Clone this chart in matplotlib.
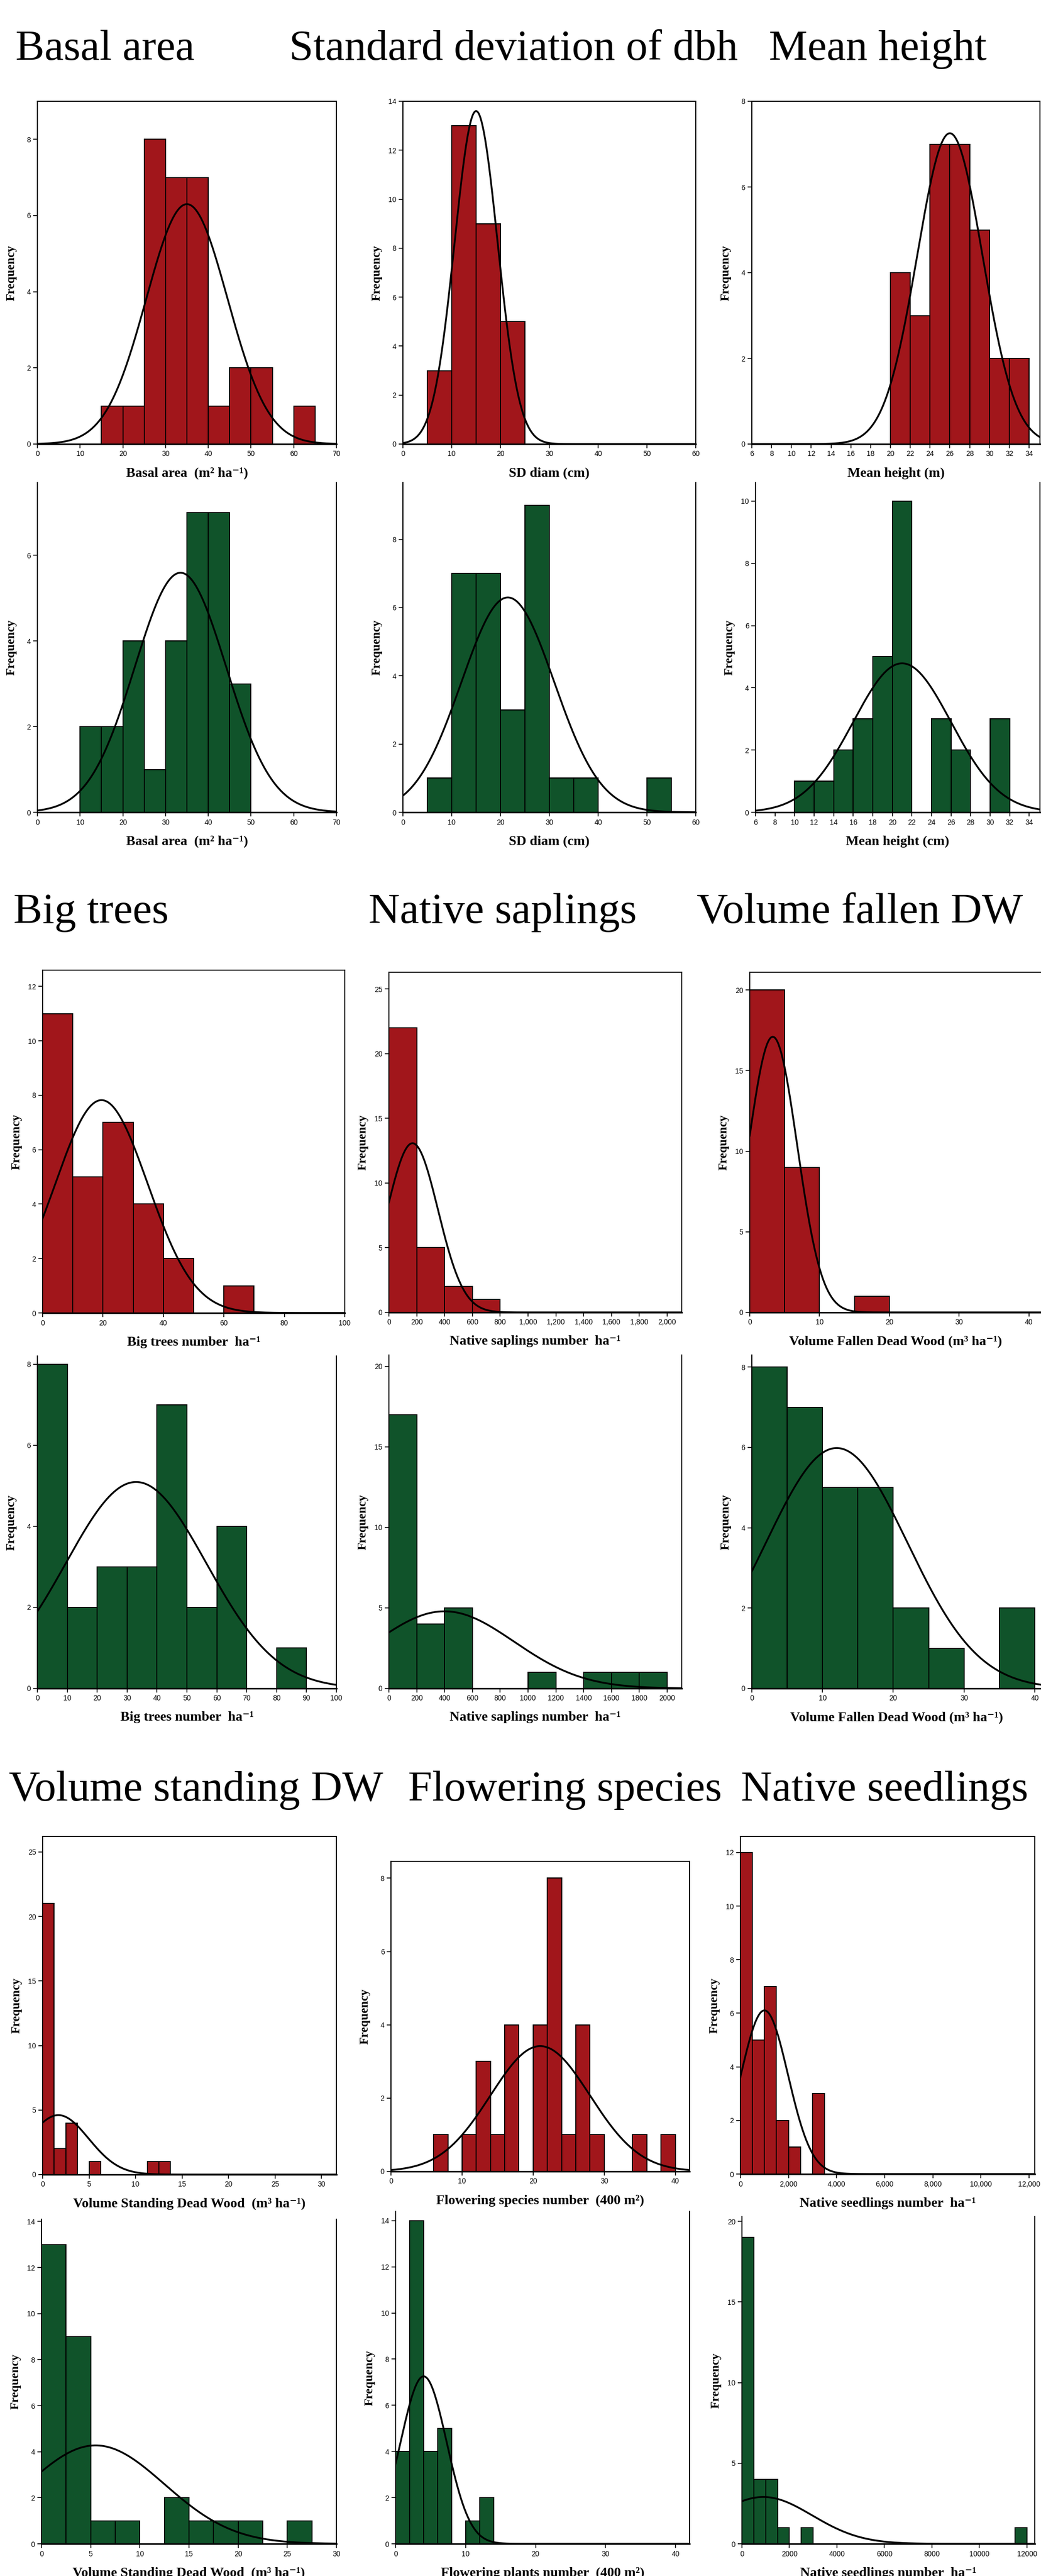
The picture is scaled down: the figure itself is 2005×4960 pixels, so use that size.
import numpy as np
import matplotlib
matplotlib.use("Agg")
from matplotlib import pyplot as plt

W, H = 2005, 4960
RED = "#a1161b"
GREEN = "#10532a"

# histogram data: lower bin edges, counts, bin width; fitted normal (mean, sd)
basal_red_bins = [15, 20, 25, 30, 35, 40, 45, 50, 60]
basal_red_counts = [1, 1, 8, 7, 7, 1, 2, 2, 1]
basal_green_bins = [10, 15, 20, 25, 30, 35, 40, 45]
basal_green_counts = [2, 2, 4, 1, 4, 7, 7, 3]

sd_red_bins = [5, 10, 15, 20]
sd_red_counts = [3, 13, 9, 5]
sd_green_bins = [5, 10, 15, 20, 25, 30, 35, 50]
sd_green_counts = [1, 7, 7, 3, 9, 1, 1, 1]

height_red_bins = [20, 22, 24, 26, 28, 30, 32]
height_red_counts = [4, 3, 7, 7, 5, 2, 2]
height_green_bins = [10, 12, 14, 16, 18, 20, 24, 26, 30]
height_green_counts = [1, 1, 2, 3, 5, 10, 3, 2, 3]

bigtrees_red_bins = [0, 10, 20, 30, 40, 60]
bigtrees_red_counts = [11, 5, 7, 4, 2, 1]
bigtrees_green_bins = [0, 10, 20, 30, 40, 50, 60, 80]
bigtrees_green_counts = [8, 2, 3, 3, 7, 2, 4, 1]

saplings_red_bins = [0, 200, 400, 600]
saplings_red_counts = [22, 5, 2, 1]
saplings_green_bins = [0, 200, 400, 1000, 1400, 1600, 1800]
saplings_green_counts = [17, 4, 5, 1, 1, 1, 1]

fallen_red_bins = [0, 5, 15]
fallen_red_counts = [20, 9, 1]
fallen_green_bins = [0, 5, 10, 15, 20, 25, 35]
fallen_green_counts = [8, 7, 5, 5, 2, 1, 2]

standing_red_bins = [0, 1.25, 2.5, 5, 11.25, 12.5]
standing_red_counts = [21, 2, 4, 1, 1, 1]
standing_green_bins = [0, 2.5, 5, 7.5, 12.5, 15, 17.5, 20, 25]
standing_green_counts = [13, 9, 1, 1, 2, 1, 1, 1, 1]

flowering_red_bins = [6, 10, 12, 14, 16, 20, 22, 24, 26, 28, 34, 38]
flowering_red_counts = [1, 1, 3, 1, 4, 4, 8, 1, 4, 1, 1, 1]
flowering_green_bins = [0, 2, 4, 6, 10, 12]
flowering_green_counts = [4, 14, 4, 5, 1, 2]

seedlings_red_bins = [0, 500, 1000, 1500, 2000, 3000]
seedlings_red_counts = [12, 5, 7, 2, 1, 3]
seedlings_green_bins = [0, 500, 1000, 1500, 2500, 11500]
seedlings_green_counts = [19, 4, 4, 1, 1, 1]

# normal fits: (mean, sd)
fits = {
    "basal_red": (35, 9.5), "basal_green": (33.5, 10.7),
    "sd_red": (15, 4.4), "sd_green": (21.5, 9.5),
    "height_red": (26, 3.3), "height_green": (21, 5.0),
    "bigtrees_red": (19.5, 15.3), "bigtrees_green": (33, 23.5),
    "saplings_red": (170, 183), "saplings_green": (400, 500),
    "fallen_red": (3.3, 3.5), "fallen_green": (12, 10),
    "standing_red": (1.7, 3.25), "standing_green": (5.5, 7.0),
    "flowering_red": (21, 7.0), "flowering_green": (4, 3.3),
    "seedlings_red": (1000, 980), "seedlings_green": (900, 2060),
}

section_titles = [
    (115, [(30, "Basal area"), (557, "Standard deviation of dbh"), (1481, "Mean height")]),
    (1777, [(26, "Big trees"), (710, "Native saplings"), (1342, "Volume fallen DW")]),
    (3467, [(17, "Volume standing DW"), (786, "Flowering species"), (1427, "Native seedlings")]),
]

m2 = "(m\u00b2 ha\u207b\u00b9)"
m3 = "(m\u00b3 ha\u207b\u00b9)"

# name, bins, counts, width, color, box px (l, t, r, b), xlim, ylim, xticks, yticks, xlabel, comma ticks
panels = [
    ("basal_red", basal_red_bins, basal_red_counts, 5, RED, (72, 195, 648, 855), (0, 70), (0, 9),
     range(0, 71, 10), range(0, 9, 2), "Basal area  " + m2, False),
    ("sd_red", sd_red_bins, sd_red_counts, 5, RED, (776, 195, 1340, 855), (0, 60), (0, 14),
     range(0, 61, 10), range(0, 15, 2), "SD diam (cm)", False),
    ("height_red", height_red_bins, height_red_counts, 2, RED, (1448, 195, 2003, 855), (6, 35.1), (0, 8),
     range(6, 35, 2), range(0, 9, 2), "Mean height (m)", False),
    ("basal_green", basal_green_bins, basal_green_counts, 5, GREEN, (72, 929, 648, 1564), (0, 70), (0, 7.7),
     range(0, 71, 10), range(0, 7, 2), "Basal area  " + m2, False),
    ("sd_green", sd_green_bins, sd_green_counts, 5, GREEN, (776, 929, 1340, 1564), (0, 60), (0, 9.67),
     range(0, 61, 10), range(0, 9, 2), "SD diam (cm)", False),
    ("height_green", height_green_bins, height_green_counts, 2, GREEN, (1455, 929, 2003, 1564), (6, 35.1), (0, 10.6),
     range(6, 35, 2), range(0, 11, 2), "Mean height (cm)", False),

    ("bigtrees_red", bigtrees_red_bins, bigtrees_red_counts, 10, RED, (82, 1868, 664, 2528), (0, 100), (0, 12.6),
     range(0, 101, 20), range(0, 13, 2), "Big trees number  ha\u207b\u00b9", False),
    ("saplings_red", saplings_red_bins, saplings_red_counts, 200, RED, (749, 1872, 1313, 2527), (0, 2105), (0, 26.3),
     range(0, 2001, 200), range(0, 26, 5), "Native saplings number  ha\u207b\u00b9", True),
    ("fallen_red", fallen_red_bins, fallen_red_counts, 5, RED, (1444, 1872, 2049, 2527), (0, 45), (0, 21.1),
     range(0, 41, 10), range(0, 21, 5), "Volume Fallen Dead Wood " + m3, False),
    ("bigtrees_green", bigtrees_green_bins, bigtrees_green_counts, 10, GREEN, (72, 2611, 648, 3251), (0, 100), (0, 8.2),
     range(0, 101, 10), range(0, 9, 2), "Big trees number  ha\u207b\u00b9", False),
    ("saplings_green", saplings_green_bins, saplings_green_counts, 200, GREEN, (749, 2609, 1313, 3251), (0, 2105), (0, 20.7),
     range(0, 2001, 200), range(0, 21, 5), "Native saplings number  ha\u207b\u00b9", False),
    ("fallen_green", fallen_green_bins, fallen_green_counts, 5, GREEN, (1448, 2609, 2061, 3251), (0, 45), (0, 8.3),
     range(0, 41, 10), range(0, 9, 2), "Volume Fallen Dead Wood " + m3, False),

    ("standing_red", standing_red_bins, standing_red_counts, 1.25, RED, (82, 3536, 648, 4187), (0, 31.6), (0, 26.2),
     range(0, 31, 5), range(0, 26, 5), "Volume Standing Dead Wood  " + m3, False),
    ("flowering_red", flowering_red_bins, flowering_red_counts, 2, RED, (753, 3584, 1328, 4181), (0, 42), (0, 8.46),
     range(0, 41, 10), range(0, 9, 2), "Flowering species number  (400 m\u00b2)", False),
    ("seedlings_red", seedlings_red_bins, seedlings_red_counts, 500, RED, (1426, 3536, 1993, 4186), (0, 12240), (0, 12.6),
     range(0, 12001, 2000), range(0, 13, 2), "Native seedlings number  ha\u207b\u00b9", True),
    ("standing_green", standing_green_bins, standing_green_counts, 2.5, GREEN, (80, 4273, 648, 4898), (0, 30), (0, 14.1),
     range(0, 31, 5), range(0, 15, 2), "Volume Standing Dead Wood  " + m3, False),
    ("flowering_green", flowering_green_bins, flowering_green_counts, 2, GREEN, (762, 4258, 1328, 4898), (0, 42), (0, 14.4),
     range(0, 41, 10), range(0, 15, 2), "Flowering plants number  (400 m\u00b2)", False),
    ("seedlings_green", seedlings_green_bins, seedlings_green_counts, 500, GREEN, (1429, 4268, 1993, 4898), (0, 12330), (0, 20.3),
     range(0, 12001, 2000), range(0, 21, 5), "Native seedlings number  ha\u207b\u00b9", False),
]

SERIF = ["Liberation Serif", "DejaVu Serif"]
plt.rcParams["font.family"] = ["Liberation Sans", "DejaVu Sans"]

fig = plt.figure(figsize=(W / 100, H / 100), dpi=100)

for base_y, items in section_titles:
    for x, txt in items:
        fig.text(x / W, 1 - base_y / H, txt, family=SERIF, fontsize=60,
                 ha="left", va="baseline")

for (name, bins, counts, width, color, box, xlim, ylim,
     xticks, yticks, xlabel, commas) in panels:
    l, t, r, b = box
    ax = fig.add_axes([l / W, 1 - b / H, (r - l) / W, (b - t) / H])
    ax.bar(bins, counts, width=width, align="edge", color=color,
           edgecolor="black", linewidth=1.4, zorder=2)

    mean, sd = fits[name]
    n = sum(counts)
    xs = np.linspace(xlim[0], xlim[1], 500)
    ys = n * width / (sd * np.sqrt(2 * np.pi)) * np.exp(-0.5 * ((xs - mean) / sd) ** 2)
    ax.plot(xs, ys, color="black", lw=2.5, zorder=3)

    ax.set_xlim(*xlim)
    ax.set_ylim(*ylim)
    ax.set_xticks(list(xticks))
    ax.set_yticks(list(yticks))
    if commas:
        ax.set_xticklabels([f"{v:,}" for v in xticks])
    ax.tick_params(direction="out", length=6, width=1.2, labelsize=10, pad=3)
    for s in ax.spines.values():
        s.set_linewidth(1.5)
    ax.spines["bottom"].set_linewidth(2.2)
    if color == GREEN:
        ax.spines["top"].set_visible(False)

    vis_r = min(r, W)
    fig.text((l + vis_r) / 2 / W, 1 - (b + 56) / H, xlabel, family=SERIF,
             fontsize=19, fontweight="bold", ha="center", va="center")
    fig.text((l - 50) / W, 1 - (t + b) / 2 / H, "Frequency", family=SERIF,
             fontsize=17, fontweight="bold", rotation=90, ha="center", va="center")

fig.savefig("out.png", dpi=100)
